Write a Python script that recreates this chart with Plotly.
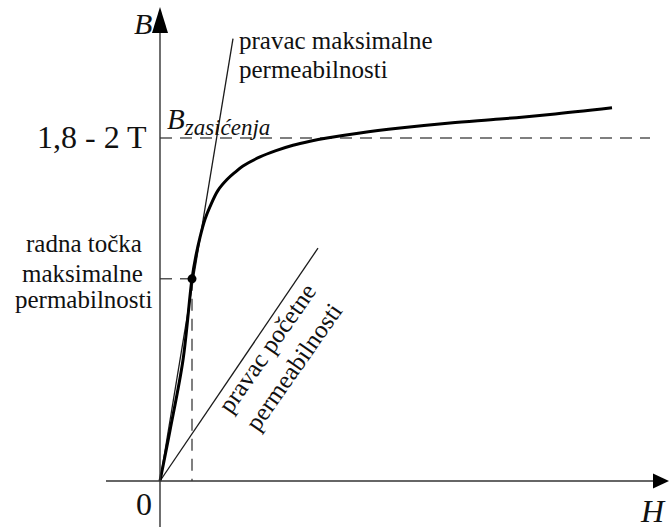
import plotly.graph_objects as go

# ---- data (H in arbitrary units, B in tesla) ----
H_curve = [0, 20, 46, 64, 72, 80, 90, 100, 116, 134, 150, 166, 200, 232, 266, 300, 334, 400, 480, 580, 680, 780, 904]
B_curve = [0, 0.28, 0.67, 1.12, 1.25, 1.35, 1.45, 1.52, 1.61, 1.67, 1.71, 1.745, 1.795, 1.83, 1.86, 1.882, 1.90, 1.928, 1.955, 1.983, 2.005, 2.03, 2.067]

B_sat = 1.9
H_sat_end = 980
H_work, B_work = 64, 1.12
H_mu_max_end, B_mu_max_end = 146, 2.45
H_mu_init_end, B_mu_init_end = 316, 1.29

x_range = [-320, 1020]
y_range = [-0.2548, 2.6644]
y_tip = 2.6256
x_tip = 1018
x_axis_start = -108

W, Hh = 670, 527
SERIF = "Liberation Serif, Times New Roman, serif"
DASH_COL = "#555555"


def P(px, py):
    return px / W, 1 - py / Hh


fig = go.Figure()

# max permeability line
fig.add_trace(go.Scatter(x=[0, H_mu_max_end], y=[0, B_mu_max_end], mode="lines",
                         line=dict(color="#1a1a1a", width=1.3), hoverinfo="skip"))
# initial permeability line
fig.add_trace(go.Scatter(x=[0, H_mu_init_end], y=[0, B_mu_init_end], mode="lines",
                         line=dict(color="#1a1a1a", width=1.3), hoverinfo="skip"))
# saturation dashed
fig.add_trace(go.Scatter(x=[0, H_sat_end], y=[B_sat, B_sat], mode="lines",
                         line=dict(color=DASH_COL, width=1.5, dash="12px,8px"), hoverinfo="skip"))
# working point dashed lines
fig.add_trace(go.Scatter(x=[0, H_work], y=[B_work, B_work], mode="lines",
                         line=dict(color=DASH_COL, width=1.5, dash="12px,8px"), hoverinfo="skip"))
fig.add_trace(go.Scatter(x=[H_work, H_work], y=[B_work, 0], mode="lines",
                         line=dict(color=DASH_COL, width=1.5, dash="12px,8px"), hoverinfo="skip"))
# B-H curve
fig.add_trace(go.Scatter(x=H_curve, y=B_curve, mode="lines",
                         line=dict(color="black", width=3, shape="spline", smoothing=1.0),
                         hoverinfo="skip"))
# working point
fig.add_trace(go.Scatter(x=[H_work], y=[B_work], mode="markers",
                         marker=dict(color="black", size=9), hoverinfo="skip"))

# axes
fig.add_shape(type="line", xref="x", yref="y", x0=x_axis_start, y0=0, x1=x_tip - 20, y1=0,
              line=dict(color="#333333", width=1.4))
fig.add_shape(type="line", xref="x", yref="y", x0=0, y0=y_range[0], x1=0, y1=y_tip - 0.1,
              line=dict(color="#333333", width=1.4))
fig.add_shape(type="path", xref="x", yref="y", xsizemode="pixel", ysizemode="pixel",
              xanchor=0, yanchor=y_tip, path="M0,0 L-8,-26 L8,-26 Z",
              fillcolor="black", line=dict(color="black", width=0))
fig.add_shape(type="path", xref="x", yref="y", xsizemode="pixel", ysizemode="pixel",
              xanchor=x_tip, yanchor=0, path="M0,0 L-16,7.5 L-16,-7.5 Z",
              fillcolor="black", line=dict(color="black", width=0))

ann = []


def text(t, px, py, size, xanchor="center", yanchor="middle", angle=0, align="center"):
    x, y = P(px, py)
    ann.append(dict(text=t, x=x, y=y, xref="paper", yref="paper", showarrow=False,
                    xanchor=xanchor, yanchor=yanchor, textangle=angle, align=align,
                    borderpad=0,
                    font=dict(family=SERIF, size=size, color="#111111")))


text("<i>B</i>", 153, 23.5, 30, xanchor="right")
text("<i>H</i>", 653, 510.5, 32)
text("0", 144, 503.5, 32)
text("1,8 - 2 T", 148, 136.5, 32, xanchor="right")
text("<i>B</i><sub><i><span style='font-size:23px'>zasićenja</span></i></sub>", 166, 122, 29, xanchor="left")
text("pravac maksimalne", 238, 40.6, 25, xanchor="left")
text("permeabilnosti", 238, 69.6, 25, xanchor="left")
text("radna točka", 84, 243.6, 25)
text("maksimalne", 82, 273.6, 25)
text("permabilnosti", 84, 299.6, 25)
text("pravac početne<br>permeabilnosti", 280, 357.5, 25, angle=-55)

fig.update_layout(
    width=W, height=Hh, margin=dict(l=0, r=0, t=0, b=0),
    paper_bgcolor="white", plot_bgcolor="white", showlegend=False,
    xaxis=dict(range=x_range, visible=False, fixedrange=True),
    yaxis=dict(range=y_range, visible=False, fixedrange=True),
    annotations=ann,
)

fig.write_html("out.html", config={"displayModeBar": False},
               post_script="document.body.style.margin='0px';document.body.style.overflow='hidden';")
